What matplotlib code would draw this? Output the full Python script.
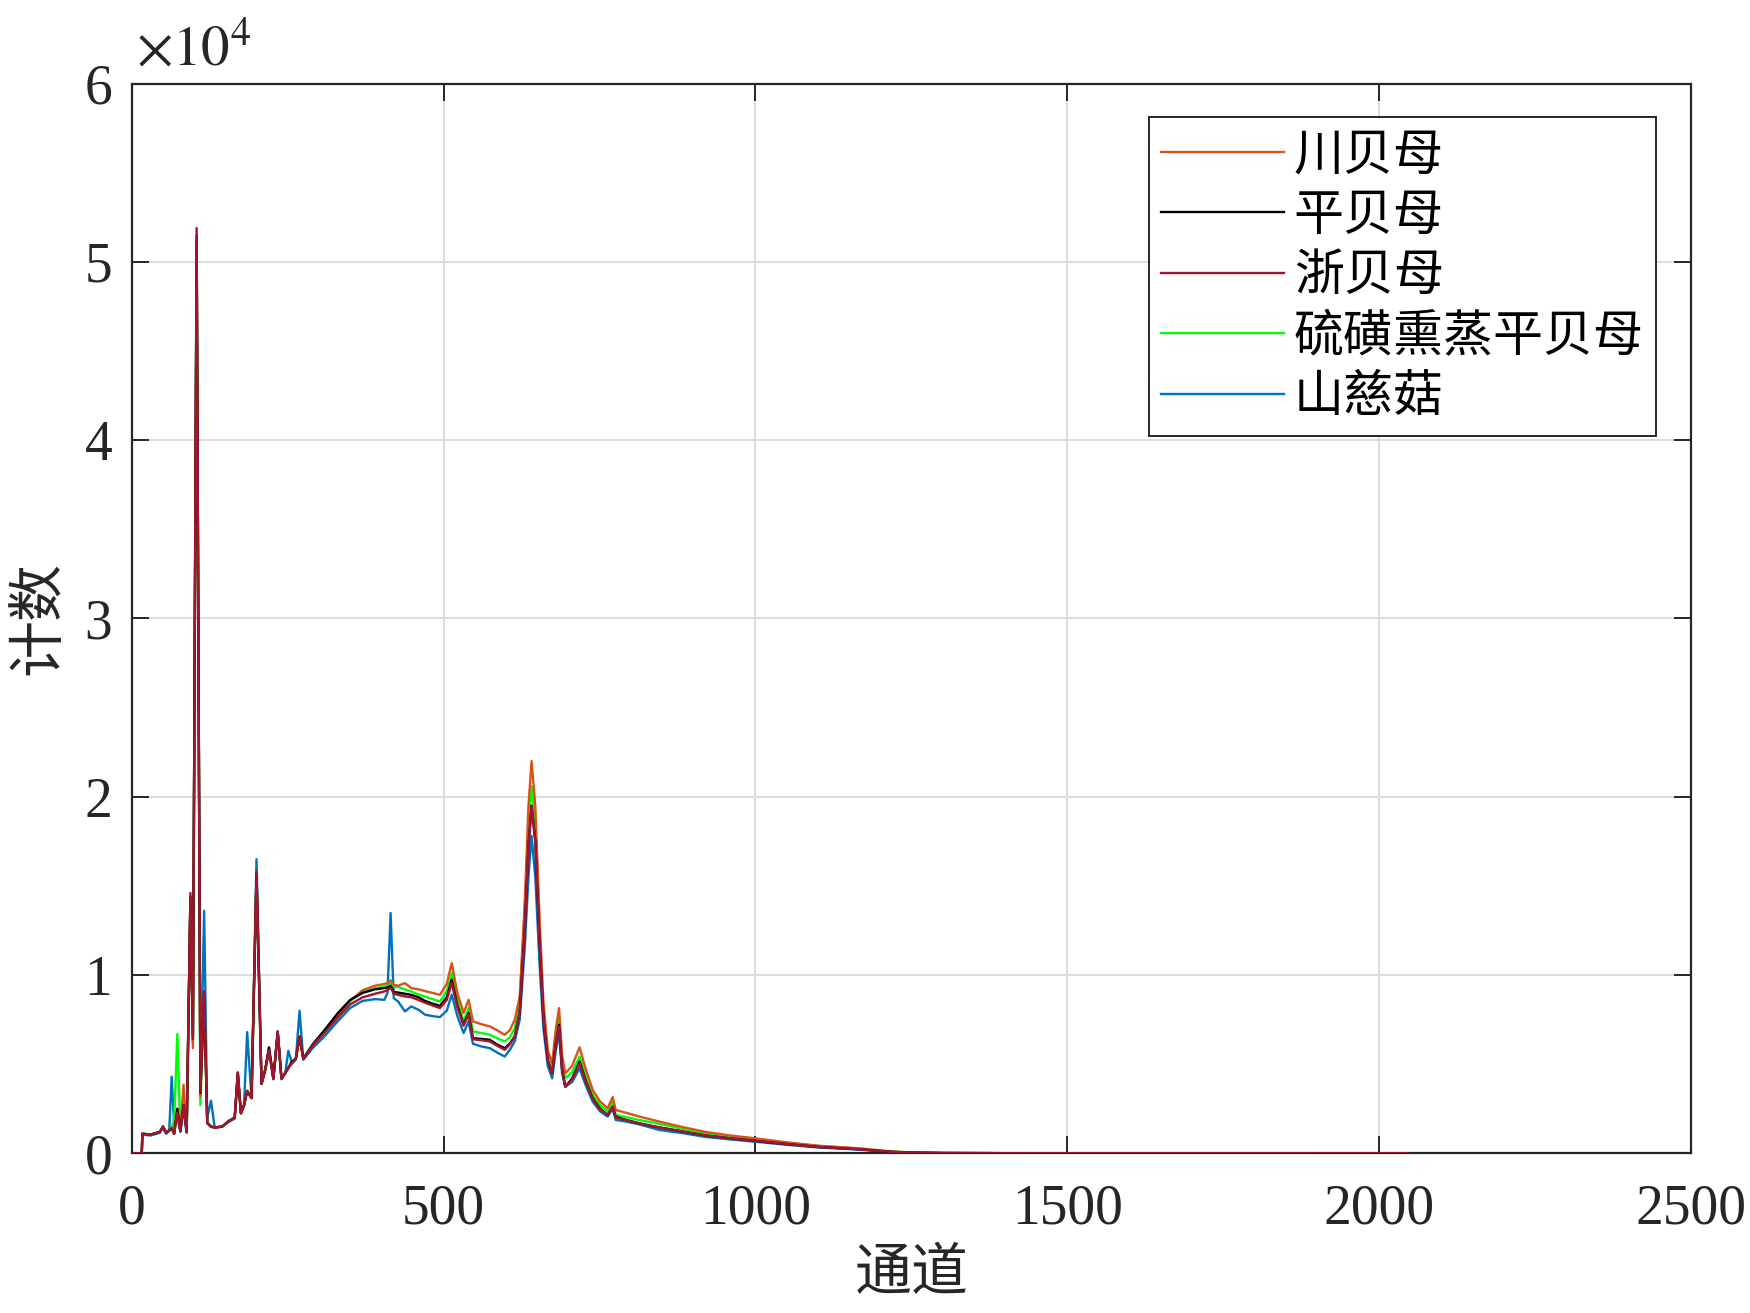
import matplotlib
matplotlib.use('Agg')
import matplotlib.pyplot as plt
from matplotlib.ticker import FuncFormatter

plt.rcParams['font.family'] = ['Liberation Serif', 'Noto Sans CJK SC']
plt.rcParams['mathtext.fontset'] = 'stix'

# channel positions
channels = [0, 16, 17, 30, 45, 50, 55, 60, 64, 68, 73, 78, 83, 88, 94, 98, 104, 110, 116, 121,
            127, 133, 145, 155, 165, 170, 175, 180, 185, 192, 200, 208, 214, 220, 227, 234, 240, 246, 251, 257,
            263, 269, 275, 290, 310, 330, 350, 370, 390, 405, 410, 415, 420, 427, 438, 448, 460, 470, 482, 494,
            505, 513, 522, 532, 540, 547, 560, 574, 586, 598, 606, 614, 622, 630, 636, 641, 647, 654, 660, 667,
            674, 680, 685, 690, 695, 706, 718, 728, 739, 751, 763, 771, 776, 790, 814, 846, 880, 920, 960, 1000,
            1050, 1100, 1166, 1219, 1260, 1300, 1400, 1600, 1800, 2047]

# 川贝母
chuan = [0, 0, 1100, 1050, 1200, 1500, 1150, 1300, 1400, 1100, 2500, 1250, 3850, 1200, 14000, 5900, 51000, 3200, 9000, 1700,
         1500, 1450, 1500, 1800, 2000, 4450, 2250, 2700, 3500, 3100, 15500, 3900, 4700, 5850, 4200, 6750, 4200, 4500, 4800, 5100,
         5300, 6500, 5300, 6100, 6900, 7750, 8550, 9150, 9400, 9500, 9550, 9700, 9450, 9400, 9550, 9270, 9200, 9100, 9000, 8890,
         9500, 10670, 9000, 7870, 8610, 7400, 7250, 7120, 6900, 6650, 6900, 7490, 8800, 14000, 19500, 22000, 19500, 13000, 8500, 5800,
         5050, 7000, 8150, 5500, 4490, 4900, 5950, 4700, 3560, 2900, 2530, 3150, 2430, 2300, 2060, 1780, 1500, 1200, 1000, 840,
         620, 430, 280, 100, 40, 20, 10, 5, 3, 0]
# 平贝母
ping = [0, 0, 1100, 1050, 1200, 1500, 1150, 1300, 1400, 1100, 2500, 1250, 2700, 1200, 14400, 6600, 51500, 3400, 9000, 1700,
        1500, 1450, 1500, 1800, 2000, 4500, 2250, 2700, 3500, 3100, 15700, 3900, 4700, 5950, 4200, 6830, 4200, 4500, 4800, 5150,
        5300, 6550, 5300, 6100, 6950, 7850, 8600, 9000, 9200, 9270, 9300, 9400, 9050, 9020, 8950, 8890, 8750, 8550, 8400, 8270,
        8750, 9740, 8300, 7210, 7870, 6460, 6420, 6370, 6100, 5900, 6150, 6560, 7900, 12500, 17200, 19500, 17500, 11700, 7600, 5200,
        4490, 6200, 7210, 4700, 3740, 4200, 5150, 4050, 3090, 2500, 2150, 2620, 2050, 1900, 1680, 1450, 1250, 1000, 840, 700,
        520, 360, 230, 80, 35, 18, 9, 5, 3, 0]
# 浙贝母
zhe = [0, 0, 1100, 1050, 1200, 1500, 1150, 1300, 1400, 1100, 2300, 1250, 2700, 1200, 14600, 6400, 51900, 3500, 9100, 1700,
       1500, 1450, 1500, 1800, 2000, 4550, 2250, 2700, 3500, 3100, 15800, 3900, 4700, 5800, 4200, 6830, 4200, 4500, 4800, 5050,
       5300, 6550, 5300, 6050, 6800, 7600, 8350, 8750, 8950, 9080, 9150, 9300, 8950, 8890, 8800, 8760, 8600, 8450, 8300, 8150,
       8600, 9550, 8200, 7160, 7800, 6400, 6350, 6280, 6030, 5810, 6100, 6560, 7900, 12500, 17200, 19500, 17500, 11700, 7600, 5200,
       4490, 6200, 7100, 4700, 3740, 4150, 5050, 4000, 3050, 2450, 2150, 2600, 2000, 1880, 1680, 1450, 1250, 1000, 840, 700,
       520, 360, 230, 80, 35, 18, 9, 5, 3, 0]
# 硫磺熏蒸平贝母
liuhuang = [0, 0, 1100, 1050, 1200, 1500, 1150, 1300, 1500, 1800, 6700, 1250, 2700, 1200, 14400, 6200, 51200, 2700, 8800, 1700,
            1500, 1450, 1500, 1800, 2000, 4450, 2250, 2700, 3500, 3100, 15600, 3900, 4700, 5850, 4200, 6750, 4200, 4500, 4800, 5100,
            5300, 6500, 5300, 6100, 6950, 7800, 8550, 9050, 9250, 9350, 9400, 9550, 9350, 9330, 9200, 9080, 8900, 8800, 8650, 8520,
            9100, 10110, 8600, 7400, 8150, 6840, 6750, 6650, 6450, 6280, 6500, 7020, 8500, 13500, 18500, 20600, 18500, 12300, 8000, 5500,
            4770, 6500, 7590, 5100, 4210, 4550, 5430, 4300, 3280, 2700, 2340, 2900, 2150, 2050, 1870, 1650, 1400, 1120, 940, 800,
            590, 410, 260, 90, 38, 19, 9, 5, 3, 0]
# 山慈菇
shancigu = [0, 0, 1050, 1000, 1150, 1450, 1100, 1250, 4300, 1500, 2000, 1200, 2500, 1150, 14000, 6300, 51000, 3300, 13600, 2000,
            2950, 1450, 1500, 1750, 1950, 4500, 2250, 2700, 6800, 3100, 16500, 3900, 4650, 5800, 4150, 6830, 4150, 4500, 5750, 5050,
            5250, 8000, 5250, 5900, 6600, 7400, 8150, 8550, 8650, 8610, 9000, 13480, 8700, 8520, 7960, 8240, 8050, 7780, 7700, 7640,
            8000, 8900, 7700, 6750, 7400, 6150, 6000, 5900, 5650, 5430, 5800, 6280, 7500, 11500, 15500, 17800, 15500, 10500, 7000, 4900,
            4210, 5800, 6750, 4500, 3740, 4000, 4770, 3800, 2900, 2350, 2060, 2500, 1870, 1800, 1620, 1310, 1150, 920, 780, 650,
            480, 330, 210, 70, 30, 15, 8, 4, 2, 0]

series = [
    ('川贝母', chuan, '#D95319', 3),
    ('平贝母', ping, '#000000', 4),
    ('浙贝母', zhe, '#A2142F', 6),
    ('硫磺熏蒸平贝母', liuhuang, '#00FF00', 2),
    ('山慈菇', shancigu, '#0072BD', 1),
]

fig = plt.figure(figsize=(17.5, 13.13), dpi=100)
ax = fig.add_axes([0.0753, 0.1216, 0.8910, 0.8147])

for name, vals, col, z in series:
    ax.plot(channels, vals, color=col, lw=1.7, label=name, zorder=z)

ax.set_xlim(0, 2500)
ax.set_ylim(0, 60000)
ax.set_xticks([0, 500, 1000, 1500, 2000, 2500])
ax.set_yticks([0, 10000, 20000, 30000, 40000, 50000, 60000])
ax.yaxis.set_major_formatter(FuncFormatter(lambda v, p: f'{v / 1e4:g}'))

ax.grid(True, color='#dcdcdc', lw=1.4)
ax.set_axisbelow(True)
for s in ax.spines.values():
    s.set_color('#262626')
    s.set_linewidth(1.6)
ax.tick_params(direction='in', length=12, width=1.4, colors='#262626',
               top=True, right=True, labelsize=40)
ax.tick_params(axis='x', pad=22)
ax.tick_params(axis='y', pad=14)
for lab in ax.get_xticklabels() + ax.get_yticklabels():
    lab.set_color('#262626')

ax.text(0.003, 1.006, r'$\times10^{4}$', transform=ax.transAxes,
        fontsize=41, ha='left', va='bottom', color='#262626')

ax.set_xlabel('通道', fontsize=41, family=['Noto Sans CJK SC'], labelpad=6, color='#262626')
ax.set_ylabel('计数', fontsize=41, family=['Noto Sans CJK SC'], labelpad=12, color='#262626')

leg = ax.legend(loc='upper right', bbox_to_anchor=(0.9776, 0.9689), borderaxespad=0,
                prop={'family': ['Noto Sans CJK SC'], 'size': 36},
                fancybox=False, framealpha=1, edgecolor='#262626',
                handlelength=2.45, handletextpad=0.2, labelspacing=0.17,
                borderpad=0.25)
leg.get_frame().set_linewidth(1.4)

fig.savefig('out.png', dpi=100)
